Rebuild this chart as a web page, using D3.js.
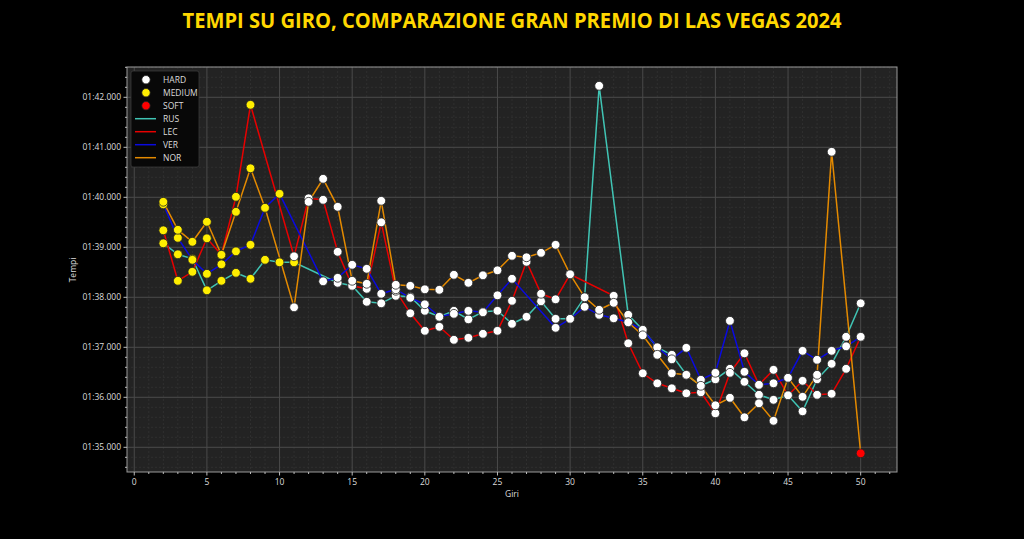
<!DOCTYPE html>
<html><head><meta charset="utf-8">
<script src="https://cdn.jsdelivr.net/npm/d3@7"></script>
<style>body{margin:0;background:#000;}svg{display:block;}</style>
</head><body><svg id="c" width="1024" height="539"></svg>
<script>
// ---------- DATA ----------
const title = "TEMPI SU GIRO, COMPARAZIONE GRAN PREMIO DI LAS VEGAS 2024";
const laps = d3.range(2, 51);
// lap times in seconds (null = lap not shown)
const rus = [99.08,98.86,98.77,98.14,98.33,98.49,98.37,98.75,98.70,98.70,null,null,98.29,98.23,97.91,97.88,98.03,98.01,97.73,97.61,97.73,97.56,97.71,97.73,97.47,97.61,97.92,97.57,97.57,98.00,102.23,null,97.65,97.35,97.00,96.85,96.45,96.23,96.36,96.57,96.31,96.05,95.95,96.04,95.72,96.36,96.67,97.21,97.88];
const lec = [99.34,98.33,98.51,99.18,98.85,100.01,101.85,null,null,98.82,99.98,99.95,98.91,98.23,98.17,99.50,98.13,97.68,97.33,97.41,97.15,97.19,97.27,97.33,97.93,98.71,98.07,97.96,98.46,null,null,98.03,97.08,96.48,96.28,96.18,96.08,96.10,95.68,96.49,96.88,96.25,96.55,96.04,96.33,96.05,96.07,96.57,97.21];
const ver = [99.86,99.19,98.75,98.47,98.66,98.92,99.05,99.79,100.07,null,null,98.32,98.39,98.65,98.57,98.07,98.16,97.99,97.86,97.61,97.67,97.73,97.70,98.04,98.37,null,null,97.39,97.57,97.81,97.65,97.58,97.50,97.35,97.00,96.76,96.99,96.35,96.49,97.53,96.51,96.25,96.28,96.39,96.93,96.75,96.93,97.02,97.21];
const nor = [99.91,99.35,99.11,99.51,98.85,99.71,100.58,99.79,null,97.80,99.91,100.37,99.81,98.33,98.27,99.93,98.25,98.23,98.16,98.15,98.45,98.29,98.44,98.54,98.83,98.80,98.89,99.05,98.46,98.00,97.75,97.89,97.50,97.24,96.85,96.48,96.45,96.23,95.84,95.99,95.60,95.88,95.53,96.39,96.01,96.45,100.91,null,94.88];
// tyre stints: [compound, first lap, last lap]
const rusStints = [["MEDIUM",2,11],["HARD",12,50]];
const lecStints = [["MEDIUM",2,8],["HARD",9,50]];
const verStints = [["MEDIUM",2,10],["HARD",11,50]];
const norStints = [["MEDIUM",2,9],["HARD",10,48],["SOFT",49,50]];
const drivers = ["RUS","LEC","VER","NOR"];
const driverColors = ["#40c4b4","#e80000","#0a0ae0","#e48a00"];
const compounds = ["HARD","MEDIUM","SOFT"];
const compoundColors = ["#ffffff","#ffee00","#ff0000"];
const xTicks = [0,5,10,15,20,25,30,35,40,45,50];
const yTicks = [95,96,97,98,99,100,101,102];

// ---------- CHART ----------
const svg = d3.select("#c");
const M = {l:127, r:897, t:67, b:472};
const x = d3.scaleLinear().domain([-0.5,52.5]).range([M.l,M.r]);
const y = d3.scaleLinear().domain([94.506,102.606]).range([M.b,M.t]);
const cCol = d3.scaleOrdinal().domain(compounds).range(compoundColors);
const dCol = d3.scaleOrdinal().domain(drivers).range(driverColors);
const fmt = v => { const s = Math.round((v-60)*1000)/1000; return "01:" + d3.format("06.3f")(s); };
const FONT = "'Open Sans', 'DejaVu Sans', sans-serif";
const TXT = "#dcdcdc";

svg.append("rect").attr("width",1024).attr("height",539).attr("fill","#000");
svg.append("text").attr("x",512).attr("y",28).attr("text-anchor","middle")
  .attr("font-family",FONT).attr("font-weight","bold").attr("font-size",21)
  .attr("fill","#ffd700").attr("textLength",659).attr("lengthAdjust","spacingAndGlyphs").text(title);

svg.append("rect").attr("x",M.l).attr("y",M.t).attr("width",M.r-M.l).attr("height",M.b-M.t).attr("fill","#232323");

const g = svg.append("g");
// minor grid
const xMinor = d3.range(0,53).filter(v=>v%5!==0);
const yMinor = d3.range(94.6,102.61,0.2).map(v=>Math.round(v*10)/10).filter(v=>Math.abs(v-Math.round(v))>1e-6);
g.selectAll(".xm").data(xMinor).join("line").attr("x1",d=>x(d)).attr("x2",d=>x(d)).attr("y1",M.t).attr("y2",M.b)
  .attr("stroke","#353535").attr("stroke-width",0.7).attr("stroke-dasharray","2,2");
g.selectAll(".ym").data(yMinor).join("line").attr("y1",d=>y(d)).attr("y2",d=>y(d)).attr("x1",M.l).attr("x2",M.r)
  .attr("stroke","#353535").attr("stroke-width",0.7).attr("stroke-dasharray","2,2");
// major grid
g.selectAll(".xg").data(xTicks).join("line").attr("x1",d=>x(d)).attr("x2",d=>x(d)).attr("y1",M.t).attr("y2",M.b)
  .attr("stroke","#4a4a4a").attr("stroke-width",1);
g.selectAll(".yg").data(yTicks).join("line").attr("y1",d=>y(d)).attr("y2",d=>y(d)).attr("x1",M.l).attr("x2",M.r)
  .attr("stroke","#4a4a4a").attr("stroke-width",1);

// series
const series = [rus,lec,ver,nor].map((vals,i)=>({name:drivers[i], stints:[rusStints,lecStints,verStints,norStints][i],
  pts: laps.map((l,j)=>({lap:l, t:vals[j]})).filter(p=>p.t!==null)}));
const line = d3.line().x(p=>x(p.lap)).y(p=>y(p.t));
svg.append("g").selectAll("path").data(series).join("path")
  .attr("d",s=>line(s.pts)).attr("fill","none").attr("stroke",s=>dCol(s.name)).attr("stroke-width",1.5);
const compOf = (stints,lap) => { for (const s of stints) if (lap>=s[1] && lap<=s[2]) return s[0]; return "HARD"; };
const allPts = series.flatMap(s=>s.pts.map(p=>({...p, c:compOf(s.stints,p.lap)})));
svg.append("g").selectAll("circle").data(allPts).join("circle")
  .attr("cx",p=>x(p.lap)).attr("cy",p=>y(p.t)).attr("r",4.4)
  .attr("fill",p=>cCol(p.c)).attr("stroke","#222").attr("stroke-width",0.8);

// axes
const ax = svg.append("g").attr("font-family",FONT).attr("font-size",8.5);
ax.append("rect").attr("x",M.l).attr("y",M.t).attr("width",M.r-M.l).attr("height",M.b-M.t).attr("fill","none").attr("stroke","#9a9a9a").attr("stroke-width",1);
ax.selectAll(".xt").data(d3.range(0,53)).join("line").attr("x1",d=>x(d)).attr("x2",d=>x(d))
  .attr("y1",M.b).attr("y2",d=>M.b+(d%5===0?3.5:2)).attr("stroke","#bbb");
ax.selectAll(".xl").data(xTicks).join("text").attr("x",d=>x(d)).attr("y",M.b+13).attr("text-anchor","middle").attr("fill",TXT).text(d=>d);
ax.selectAll(".yt").data(d3.range(94.6,102.61,0.2).map(v=>Math.round(v*10)/10)).join("line").attr("y1",d=>y(d)).attr("y2",d=>y(d))
  .attr("x1",M.l).attr("x2",d=>M.l-(Math.abs(d-Math.round(d))<1e-6?3.5:2)).attr("stroke","#bbb");
ax.selectAll(".yl").data(yTicks).join("text").attr("x",M.l-6).attr("y",d=>y(d)+3).attr("text-anchor","end").attr("fill",TXT).text(fmt);
ax.append("text").attr("x",(M.l+M.r)/2).attr("y",497).attr("text-anchor","middle").attr("fill",TXT).text("Giri");
ax.append("text").attr("transform","translate(76,270) rotate(-90)").attr("text-anchor","middle").attr("fill",TXT).text("Tempi");

// legend
const lg = svg.append("g").attr("font-family",FONT).attr("font-size",8.5);
lg.append("rect").attr("x",131).attr("y",71).attr("width",68).attr("height",96).attr("rx",2)
  .attr("fill","#080808").attr("stroke","#3a3a3a").attr("stroke-width",0.8);
const items = compounds.map(c=>({label:c, type:"m", color:cCol(c)})).concat(drivers.map(d=>({label:d,type:"l",color:dCol(d)})));
const li = lg.selectAll("g.it").data(items).join("g").attr("transform",(d,i)=>`translate(0,${79.7+i*13})`);
li.filter(d=>d.type==="m").append("circle").attr("cx",146).attr("cy",0).attr("r",4.2).attr("fill",d=>d.color).attr("stroke","#222").attr("stroke-width",0.8);
li.filter(d=>d.type==="l").append("line").attr("x1",135).attr("x2",156).attr("y1",0).attr("y2",0).attr("stroke",d=>d.color).attr("stroke-width",1.5);
li.append("text").attr("x",163).attr("y",3).attr("fill",TXT).text(d=>d.label);
</script></body></html>
